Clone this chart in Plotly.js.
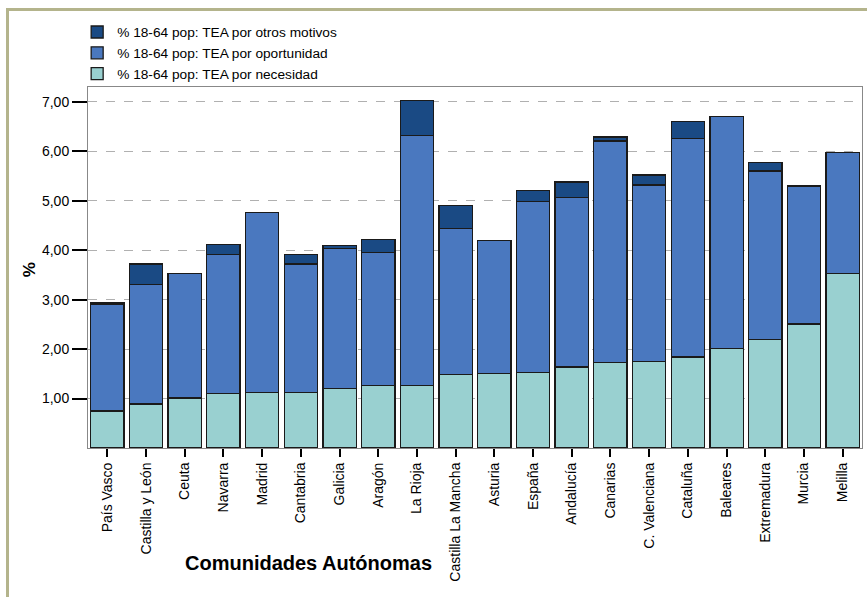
<!DOCTYPE html>
<html>
<head>
<meta charset="utf-8">
<script src="https://cdn.plot.ly/plotly-3.0.1.min.js"></script>
<style>
  html, body { margin: 0; padding: 0; background: #ffffff; }
  #chart { position: absolute; left: 0; top: 0; width: 867px; height: 597px; }
  #frame { position: absolute; left: 6px; top: 8px; width: 861px; height: 589px;
           border-top: 3px solid #b4b48c; border-left: 3px solid #b4b48c;
           box-sizing: border-box; pointer-events: none; }
</style>
</head>
<body>
<div id="chart"></div>
<div id="frame"></div>
<script>
const categories = ["País Vasco", "Castilla y León", "Ceuta", "Navarra", "Madrid", "Cantabria",
  "Galicia", "Aragón", "La Rioja", "Castilla La Mancha", "Asturia", "España", "Andalucía",
  "Canarias", "C. Valenciana", "Cataluña", "Baleares", "Extremadura", "Murcia", "Melilla"];

const necesidad   = [0.75, 0.89, 1.01, 1.10, 1.12, 1.12, 1.20, 1.26, 1.26, 1.48, 1.51, 1.53, 1.64, 1.73, 1.75, 1.84, 2.01, 2.20, 2.51, 3.53];
const oportunidad = [2.16, 2.41, 2.52, 2.81, 3.64, 2.60, 2.84, 2.70, 5.06, 2.96, 2.68, 3.45, 3.43, 4.48, 3.57, 4.42, 4.69, 3.40, 2.79, 2.45];
const otros       = [0.03, 0.42, null, 0.21, null, 0.19, 0.06, 0.25, 0.71, 0.46, null, 0.23, 0.31, 0.08, 0.20, 0.34, null, 0.17, null, null];

const seriesNames = ["% 18-64 pop: TEA por necesidad", "% 18-64 pop: TEA por oportunidad", "% 18-64 pop: TEA por otros motivos"];
const yTicks = [1, 2, 3, 4, 5, 6, 7];

const lineStyle = { color: "#1a1a1a", width: 1.3 };
const traces = [
  { type: "bar", name: seriesNames[0], x: categories, y: necesidad, marker: { color: "#99d0d0", line: lineStyle } },
  { type: "bar", name: seriesNames[1], x: categories, y: oportunidad, marker: { color: "#4a78bf", line: lineStyle } },
  { type: "bar", name: seriesNames[2], x: categories, y: otros, marker: { color: "#1a4a84", line: lineStyle } }
];

const font = "Liberation Sans, Arial, sans-serif";
const layout = {
  width: 867, height: 597,
  margin: { l: 88, r: 5, t: 87, b: 149, pad: 0 },
  paper_bgcolor: "#ffffff", plot_bgcolor: "#ffffff",
  barmode: "stack", bargap: 0.14,
  separators: ",.",
  font: { family: font, size: 14, color: "#000000" },
  showlegend: true,
  legend: {
    x: -0.014, xanchor: "left", y: 1.195, yanchor: "top",
    traceorder: "reversed", font: { family: font, size: 13.7, color: "#000" },
    bgcolor: "rgba(0,0,0,0)", tracegroupgap: 0
  },
  xaxis: {
    type: "category", tickangle: -90, ticks: "outside", ticklen: 8, tickwidth: 2, tickcolor: "#000",
    tickfont: { family: font, size: 14, color: "#000" },
    showline: true, linecolor: "#888888", linewidth: 1, mirror: true, showgrid: false
  },
  yaxis: {
    range: [0, 7.3], tickvals: yTicks, tickformat: ".2f",
    ticks: "outside", ticklen: 15, tickwidth: 2, tickcolor: "#000",
    tickfont: { family: font, size: 14, color: "#000" },
    showgrid: true, gridcolor: "#b0b0b0", gridwidth: 1, griddash: "dash",
    showline: true, linecolor: "#888888", linewidth: 1, mirror: true, zeroline: false
  },
  annotations: [
    { text: "<b>Comunidades Autónomas</b>", xref: "paper", yref: "paper", x: 0.285, y: -0.318,
      xanchor: "center", yanchor: "middle", showarrow: false, font: { family: font, size: 20, color: "#000" } },
    { text: "<b>%</b>", xref: "paper", yref: "paper", x: -0.076, y: 0.493, textangle: -90,
      xanchor: "center", yanchor: "middle", showarrow: false, font: { family: font, size: 17, color: "#000" } }
  ]
};

Plotly.newPlot("chart", traces, layout, { displayModeBar: false, staticPlot: true });
</script>
</body>
</html>
